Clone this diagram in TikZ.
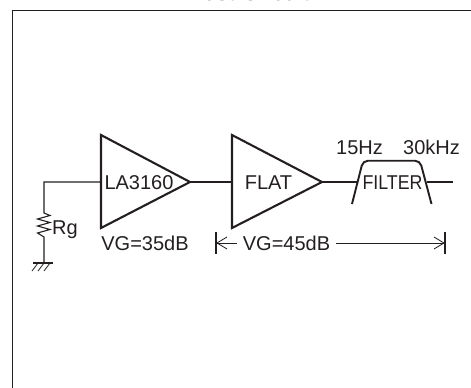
\documentclass[tikz,border=0pt]{standalone}
\usepackage{graphicx}
\usepackage{fontspec}
\setmainfont{Liberation Sans}
\definecolor{ink}{HTML}{231F20}
\tikzset{
 x=1pt,y=-1pt,
 wire/.style={draw=ink,line width=1.1pt},
 thinw/.style={draw=ink,line width=0.8pt},
 amp/.style={draw=ink,line width=2.1pt,line join=miter},
 frame/.style={draw=ink,line width=1.7pt},
 lbl/.style={inner sep=0pt,text=ink,font=\fontsize{20}{20}\selectfont,anchor=base},
}
\begin{document}
\begin{tikzpicture}
\useasboundingbox (0,0) rectangle (471,388);
\begin{scope}
\clip (0,0) rectangle (471,388);
\node[lbl,font=\fontsize{24}{24}\selectfont] (title) at (250,0.6) {Test Circuit};
\end{scope}
\draw[frame] (12.5,388) -- (12.5,10.5) -- (471,10.5);
% amplifier 1
\coordinate (a1in) at (101,182);
\coordinate (a1out) at (190,182);
\draw[amp] (101,135) -- (190,182) -- (101,228) -- cycle;
\node[lbl] (l1) at (139,189) {LA3160};
\node[lbl] (v1) at (145,250) {VG=35dB};
% amplifier 2
\coordinate (a2in) at (232,182);
\coordinate (a2out) at (322,182);
\draw[amp] (232,135) -- (322,182) -- (232,228) -- cycle;
\node[lbl] (l2) at (268.5,189) {FLAT};
% input
\coordinate (c1) at (44,182);
\coordinate (r1) at (44,213);
\coordinate (r2) at (44,237);
\coordinate (g) at (44,263);
\draw[wire] (a1in) -- (c1) -- (r1)
  -- (50,215.5) -- (37.5,219) -- (50,222.5) -- (37.5,226) -- (50,229.5) -- (37.5,233) -- (r2) -- (g);
\draw[wire,line width=1.3pt] (33,263) -- (53,263);
\foreach \i in {38,44,50} \draw[thinw] (\i,263) -- (\i-6,271);
\node[lbl] (rg) at (65,234) {Rg};
\draw[wire] (a1out) -- (a2in);
% filter
\coordinate (fl) at (352,204);
\coordinate (fr) at (431.5,204);
\draw[amp,line width=1.9pt,rounded corners=5pt] (fl) -- (363,160.7) -- (420,160.7) -- (fr);
\draw[wire] (a2out) -- (358,182);
\draw[wire] (427,182) -- (453,182);
\node[lbl] (f) at (392.5,189) {\scalebox{0.89}[1]{FILTER}};
\node[lbl] (f1) at (359.5,154) {15Hz};
\node[lbl] (f2) at (431.5,154) {30kHz};
% dimension
\coordinate (d1) at (216,243);
\coordinate (d2) at (445,243);
\draw[wire] (216,232) -- (216,253.5);
\draw[wire] (445,232) -- (445,253.5);
\node[lbl] (v2) at (286.5,250) {VG=45dB};
\draw[thinw] (d1) -- (237,243);
\draw[thinw] (336,243) -- (d2);
\draw[thinw] (227,237) -- (217,243) -- (227,249);
\draw[thinw] (434,237) -- (444,243) -- (434,249);
\end{tikzpicture}
\end{document}
